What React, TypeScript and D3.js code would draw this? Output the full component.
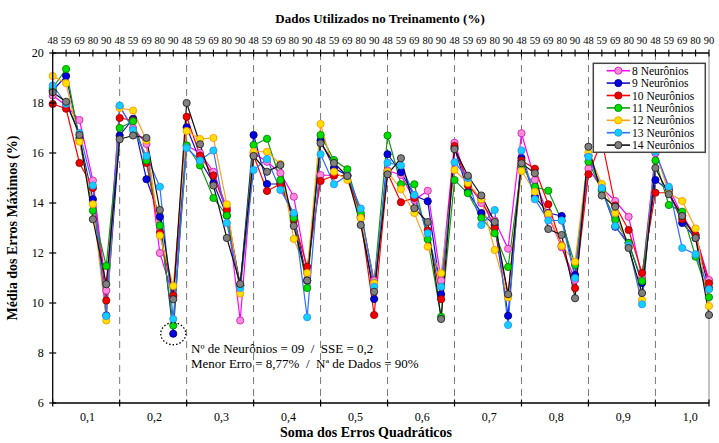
import React from 'react';
import * as d3 from 'd3';

const sseLabels = ['0,1', '0,2', '0,3', '0,4', '0,5', '0,6', '0,7', '0,8', '0,9', '1,0'];
const dataPct = ['48', '59', '69', '80', '90'];
const yTicks = [6, 8, 10, 12, 14, 16, 18, 20];

const n8 = [18.3, 17.9, 17.32, 14.9, 10.5, 17.85, 17.0, 16.36, 12.0, 10.25, 16.3, 16.0, 15.25, 13.8, 9.3, 16.0, 15.65, 15.2, 14.25, 11.2, 15.12, 15.1, 15.1, 13.5, 10.9, 15.3, 15.12, 14.12, 14.49, 10.9, 16.41, 14.8, 14.0, 13.3, 12.17, 16.79, 14.92, 13.5, 12.23, 10.92, 15.38, 14.6, 14.08, 13.45, 11.0, 15.99, 14.6, 13.5, 12.7, 10.92];
const n9 = [18.5, 19.08, 16.6, 14.15, 9.5, 16.7, 17.37, 14.95, 13.45, 8.77, 17.03, 15.7, 14.8, 13.5, 10.7, 16.72, 14.76, 14.76, 13.5, 10.9, 16.5, 15.4, 15.1, 13.45, 10.16, 15.95, 15.23, 14.3, 14.07, 10.35, 16.2, 14.45, 13.6, 13.12, 9.49, 15.8, 14.25, 13.6, 13.48, 11.12, 15.9, 14.55, 13.05, 12.4, 10.8, 14.92, 14.5, 13.2, 12.6, 10.6];
const n10 = [17.96, 17.77, 15.6, 14.6, 10.1, 17.4, 17.3, 15.6, 12.8, 10.3, 17.45, 15.9, 15.1, 13.7, 10.7, 15.9, 14.48, 14.76, 13.3, 11.45, 14.88, 15.1, 15.1, 13.4, 9.52, 15.2, 14.03, 14.2, 12.9, 10.15, 16.28, 14.7, 14.15, 13.0, 10.3, 15.7, 15.37, 13.95, 12.3, 10.59, 15.15, 16.5, 13.9, 12.92, 11.2, 14.41, 14.41, 13.35, 12.72, 10.79];
const n11 = [18.6, 19.36, 16.5, 13.7, 11.48, 17.0, 17.27, 15.7, 13.1, 9.1, 16.3, 15.5, 14.2, 13.5, 10.7, 16.32, 16.57, 14.92, 13.4, 10.6, 16.72, 15.72, 15.35, 13.6, 10.8, 16.7, 14.75, 14.75, 12.55, 9.45, 14.92, 14.39, 13.4, 12.79, 11.44, 15.5, 14.65, 14.49, 13.3, 11.52, 15.65, 14.5, 13.32, 12.4, 10.88, 15.7, 13.92, 13.65, 11.85, 10.23];
const n12 = [19.08, 18.79, 16.45, 13.95, 9.3, 17.8, 17.7, 16.5, 12.7, 10.68, 16.88, 16.56, 16.6, 13.95, 10.38, 16.05, 16.05, 15.56, 12.56, 11.2, 17.16, 15.25, 14.92, 13.4, 10.79, 15.25, 14.55, 13.6, 12.25, 11.19, 15.32, 14.8, 14.15, 12.12, 10.22, 15.28, 14.45, 13.57, 12.28, 11.65, 16.0, 14.76, 13.6, 12.25, 10.12, 16.1, 14.4, 14.08, 12.98, 9.88];
const n13 = [18.7, 17.97, 16.8, 14.7, 9.48, 17.9, 16.92, 15.88, 14.65, 9.36, 16.2, 15.7, 16.1, 13.2, 10.6, 15.32, 15.76, 14.52, 13.6, 9.43, 15.95, 14.75, 15.1, 13.78, 10.65, 15.61, 15.5, 14.32, 12.79, 10.65, 15.63, 15.0, 13.12, 13.72, 9.12, 16.1, 14.15, 13.3, 13.3, 11.0, 15.85, 14.6, 13.08, 12.3, 9.95, 16.05, 14.65, 12.2, 11.95, 10.55];
const n14 = [18.43, 18.05, 16.72, 13.35, 10.75, 16.55, 16.7, 16.6, 13.72, 10.15, 18.0, 16.35, 14.7, 12.6, 10.76, 15.88, 15.25, 15.52, 13.08, 10.9, 16.39, 15.6, 15.08, 13.12, 10.45, 15.15, 15.79, 13.79, 13.24, 9.36, 16.15, 15.09, 14.3, 13.24, 10.35, 15.59, 15.19, 12.96, 12.72, 10.19, 16.25, 14.3, 13.85, 12.2, 10.4, 15.4, 14.35, 13.48, 12.6, 9.52];

const series = [
  { name: '8 Neurônios', values: n8, line: '#ff00ff', fill: '#ff8ad8', stroke: '#d020c0' },
  { name: '9 Neurônios', values: n9, line: '#1010c8', fill: '#0000e0', stroke: '#000080' },
  { name: '10 Neurônios', values: n10, line: '#ff0000', fill: '#ee0000', stroke: '#a00000' },
  { name: '11 Neurônios', values: n11, line: '#119911', fill: '#00dd00', stroke: '#008800' },
  { name: '12 Neurônios', values: n12, line: '#ffa020', fill: '#ffe000', stroke: '#ff9900' },
  { name: '13 Neurônios', values: n13, line: '#3070ff', fill: '#10d0ff', stroke: '#3090ff' },
  { name: '14 Neurônios', values: n14, line: '#111111', fill: '#808080', stroke: '#222222' },
];

const W = 719;
const H = 443;
const left = 52.7;
const right = 709;
const top = 53;
const bottom = 403;
const font = '"Liberation Serif", "Times New Roman", serif';

export default function App() {
  const x = d3.scaleLinear().domain([0, 49]).range([left, right]);
  const y = d3.scaleLinear().domain([6, 20]).range([bottom, top]);
  const line = d3.line<number>().x((_, i) => x(i)).y(d => y(d));
  const idx = d3.range(50);
  const groups = d3.range(10);

  return (
    <svg width={W} height={H} style={{ position: 'absolute', left: 0, top: 0, background: '#fff' }} fontFamily={font}>
      {/* dashed separators */}
      {groups.slice(1).map(g => (
        <line key={'d' + g} x1={x(g * 5)} x2={x(g * 5)} y1={top} y2={bottom} stroke="#777" strokeDasharray="7,5" strokeWidth={1} />
      ))}
      <line x1={right} x2={right} y1={top} y2={bottom} stroke="#888" strokeWidth={1} />

      {series.map(s => (
        <path key={s.name} d={line(s.values) || ''} fill="none" stroke={s.line} strokeWidth={1.2} />
      ))}
      {series.map(s => (
        <g key={s.name + 'm'}>
          {s.values.map((v, i) => (
            <circle key={i} cx={x(i)} cy={y(v)} r={3.6} fill={s.fill} stroke={s.stroke} strokeWidth={0.9} />
          ))}
        </g>
      ))}

      {/* axes */}
      <line x1={left} x2={left} y1={top} y2={bottom} stroke="#000" strokeWidth={1.3} />
      <line x1={left} x2={right} y1={bottom} y2={bottom} stroke="#000" strokeWidth={1.3} />
      <line x1={left} x2={right} y1={top} y2={top} stroke="#000" strokeWidth={1.3} />
      {yTicks.map(t => (
        <g key={'y' + t}>
          <line x1={left - 3.5} x2={left + 3.5} y1={y(t)} y2={y(t)} stroke="#000" strokeWidth={1.2} />
          <text x={left - 9} y={y(t) + 4} textAnchor="end" fontSize={12}>{t}</text>
        </g>
      ))}
      {idx.map(i => (
        <g key={'t' + i}>
          <line x1={x(i)} x2={x(i)} y1={top - 3.5} y2={top + 3.5} stroke="#000" strokeWidth={1.1} />
          <text x={x(i)} y={top - 9} textAnchor="middle" fontSize={10.5}>{dataPct[i % 5]}</text>
        </g>
      ))}
      {groups.concat([10]).map(g => (
        <line key={'b' + g} x1={x(Math.min(g * 5, 49))} x2={x(Math.min(g * 5, 49))} y1={bottom - 3.5} y2={bottom + 3.5} stroke="#000" strokeWidth={1.2} />
      ))}
      {groups.map(g => (
        <text key={'bl' + g} x={x(g * 5 + 2.6)} y={bottom + 18} textAnchor="middle" fontSize={12}>{sseLabels[g]}</text>
      ))}

      <text x={366} y={437} textAnchor="middle" fontSize={14} fontWeight="bold">Soma dos Erros Quadráticos</text>
      <text x={380} y={23} textAnchor="middle" fontSize={13} fontWeight="bold">Dados Utilizados no Treinamento (%)</text>
      <text transform={`translate(17,${(top + bottom) / 2}) rotate(-90)`} textAnchor="middle" fontSize={14} fontWeight="bold">Média dos Erros Máximos (%)</text>

      {/* annotation */}
      <ellipse cx={x(9)} cy={y(8.77)} rx={12.5} ry={11} fill="none" stroke="#000" strokeWidth={1.3} strokeDasharray="1.5,2" />
      <text x={191} y={353} fontSize={13} style={{ whiteSpace: 'pre' }}>Nº de Neurônios = 09  /  SSE = 0,2</text>
      <text x={191} y={368} fontSize={13} style={{ whiteSpace: 'pre' }}>Menor Erro = 8,77%  /  Nª de Dados = 90%</text>

      {/* legend */}
      <g>
        <rect x={593.3} y={63.3} width={112} height={89} fill="#fff" stroke="#444" strokeWidth={1.5} />
        {series.map((s, k) => {
          const ly = 70.7 + k * 12.4;
          return (
            <g key={'l' + s.name}>
              <line x1={606.7} x2={630} y1={ly} y2={ly} stroke={s.line} strokeWidth={1.6} />
              <circle cx={618.3} cy={ly} r={3.6} fill={s.fill} stroke={s.stroke} strokeWidth={0.9} />
              <text x={632} y={ly + 4} fontSize={11.5}>{s.name}</text>
            </g>
          );
        })}
      </g>
    </svg>
  );
}
